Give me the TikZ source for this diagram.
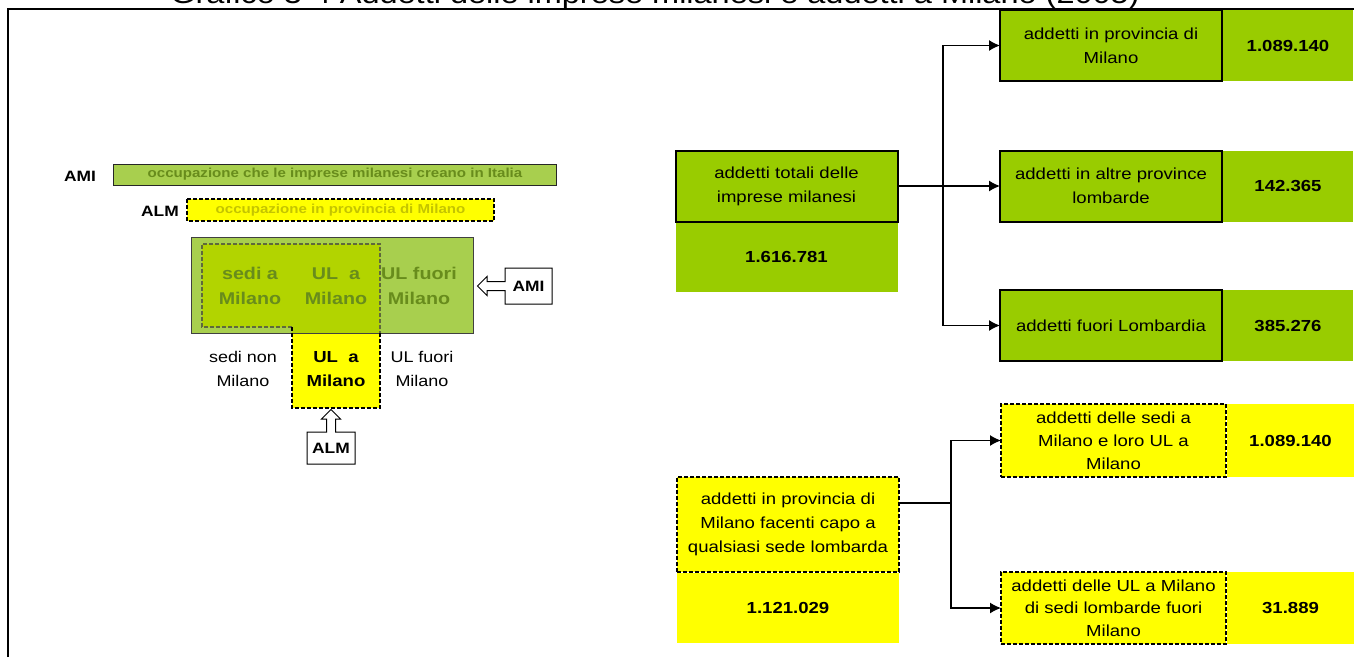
\documentclass[tikz,border=0pt]{standalone}
\usepackage{fontspec}
\setmainfont{Liberation Sans}[FakeStretch=1.16]
\usepackage{tikz}
\usetikzlibrary{positioning}
\usetikzlibrary{shapes.arrows}
\usetikzlibrary{arrows.meta}
\definecolor{grass}{RGB}{153,204,0}
\definecolor{lemon}{RGB}{255,255,0}
\definecolor{paleleaf}{RGB}{168,207,78}
\definecolor{mixleaf}{RGB}{178,212,0}
\definecolor{olivetxt}{RGB}{104,140,28}
\definecolor{olivedash}{RGB}{95,105,60}
\definecolor{mustard}{RGB}{196,196,0}
\tikzstyle{txt}=[font=\fontsize{16}{24}\selectfont,align=center,inner sep=0pt,outer sep=0pt]
\tikzstyle{greenbox}=[txt,fill=grass,draw=black,line width=2pt,minimum width=222pt,minimum height=71pt]
\tikzstyle{greenval}=[txt,fill=grass,font=\fontsize{16}{24}\selectfont\bfseries,minimum width=130pt,minimum height=71pt]
\tikzstyle{yellowbox}=[txt,fill=lemon,draw=black,line width=1.5pt,dash pattern=on 4pt off 2pt,minimum width=225pt,minimum height=73pt]
\tikzstyle{yellowval}=[txt,fill=lemon,font=\fontsize{16}{24}\selectfont\bfseries,minimum width=127pt,minimum height=73pt]
\tikzstyle{callout}=[arrow box,draw=black,fill=white,line width=1pt,font=\fontsize{15}{18}\selectfont\bfseries,inner sep=0pt,arrow box shaft width=9pt,arrow box head extend=5pt,arrow box head indent=0pt]

\begin{document}
\begin{tikzpicture}
	[x=1pt,y=-1pt,font=\fontsize{16}{24}\selectfont]
	\tikzstyle{link}=[line width=1.3pt,-{Latex[length=11pt,width=11pt]}];
	\tikzstyle{inside}=[txt,font=\fontsize{17}{25}\selectfont\bfseries,text=olivetxt];
	\tikzstyle{outside}=[txt,font=\fontsize{15.5}{24}\selectfont];
	\path[use as bounding box,clip] (0,0) rectangle (1354,657);
	% title and frame
	\node (title) [anchor=base,font=\fontsize{28}{32}\selectfont] at (655,3) {Grafico 3-4 Addetti delle imprese milanesi e addetti a Milano (2005)};
	\draw[line width=2pt] (8,657) -- (8,8.5) -- (1354,8.5);
	% left: bars
	\node (amilab) [txt,font=\fontsize{15}{18}\selectfont\bfseries] at (80,176) {AMI};
	\fill[paleleaf] (113,164) rectangle (556,185);
	\draw[black!85,line width=1pt] (113,164) rectangle (556,185);
	\node (amibar) [txt,font=\fontsize{13}{16}\selectfont\bfseries,text=olivetxt] at (335,174.5) {occupazione che le imprese milanesi creano in Italia};
	\node (almlab) [txt,font=\fontsize{15}{18}\selectfont\bfseries] at (160,211) {ALM};
	\fill[lemon] (187,199) rectangle (494,221);
	\draw[line width=1.5pt,dash pattern=on 4pt off 2pt] (187,199) rectangle (494,221);
	\node (almbar) [txt,font=\fontsize{13}{16}\selectfont\bfseries,text=mustard] at (340.5,210) {occupazione in provincia di Milano};
	% left: sets
	\fill[paleleaf] (191,237) rectangle (473,333);
	\fill[mixleaf] (202,244) -- (380,244) -- (380,333) -- (292,333) -- (292,327) -- (202,327) -- cycle;
	\fill[lemon] (292,333) rectangle (380,408);
	\draw[black!75,line width=1pt] (191,237) rectangle (473,333);
	\draw[olivedash,line width=1.5pt,dash pattern=on 4pt off 2pt] (292,327) -- (202,327) -- (202,244) -- (380,244) -- (380,333);
	\draw[line width=1.5pt,dash pattern=on 4pt off 2pt] (292,327) -- (292,408) -- (380,408) -- (380,333);
	\node (sedimi) [inside] at (250,286) {sedi a\\Milano};
	\node (ulmi) [inside] at (336,286) {UL\ \ a\\Milano};
	\node (ulfuori) [inside] at (419,286) {UL fuori\\Milano};
	\node (sedinon) [outside] at (243,369) {sedi non\\Milano};
	\node (ulmib) [txt,font=\fontsize{16}{24}\selectfont\bfseries] at (336,369) {UL\ \ a\\Milano};
	\node (ulfuorib) [outside] at (422,369) {UL fuori\\Milano};
	\node (amibox) [callout,arrow box arrows={west:27pt},minimum width=47pt,minimum height=36pt] at (528.5,286) {AMI};
	\node (almbox) [callout,arrow box arrows={north:22pt},minimum width=48pt,minimum height=32pt] at (331,448) {ALM};
	% right: green
	\node (tot) [greenbox] at (786.5,186) {addetti totali delle\\imprese milanesi};
	\node (totval) [greenval,minimum width=222pt,minimum height=69pt,below=1pt of tot] {1.616.781};
	\node (prov) [greenbox] at (1111,45.5) {addetti in provincia di\\Milano};
	\node (provval) [greenval,right=1pt of prov] {1.089.140};
	\node (altre) [greenbox] at (1111,186) {addetti in altre province\\lombarde};
	\node (altreval) [greenval,right=1pt of altre] {142.365};
	\node (fuori) [greenbox] at (1111,325.5) {addetti fuori Lombardia};
	\node (fuorival) [greenval,right=1pt of fuori] {385.276};
	\coordinate (gsplit) at (943,186);
	\draw[line width=1.3pt] (tot.east) -- (gsplit);
	\draw[link] (gsplit) -- (altre.west);
	\draw[link] (gsplit) |- (prov.west);
	\draw[link] (gsplit) |- (fuori.west);
	% right: yellow
	\node (ytot) [yellowbox,minimum width=222pt,minimum height=95pt] at (788,524.5) {addetti in provincia di\\Milano facenti capo a\\qualsiasi sede lombarda};
	\node (ytotval) [yellowval,minimum width=222pt,minimum height=70pt,below=1pt of ytot] {1.121.029};
	\node (ysedi) [yellowbox,font=\fontsize{16}{23}\selectfont] at (1113.5,440.5) {addetti delle sedi a\\Milano e loro UL a\\Milano};
	\node (ysedival) [yellowval,right=1pt of ysedi] {1.089.140};
	\node (yul) [yellowbox,font=\fontsize{16}{22.5}\selectfont,minimum height=72pt] at (1113.5,608) {addetti delle UL a Milano\\di sedi lombarde fuori\\Milano};
	\node (yulval) [yellowval,minimum height=72pt,right=1pt of yul] {31.889};
	\coordinate (ysplit) at (951,503);
	\draw[line width=1.3pt] (ytot.east |- ysplit) -- (ysplit);
	\draw[link] (ysplit) |- (ysedi.west);
	\draw[link] (ysplit) |- (yul.west);
\end{tikzpicture}
\end{document}
